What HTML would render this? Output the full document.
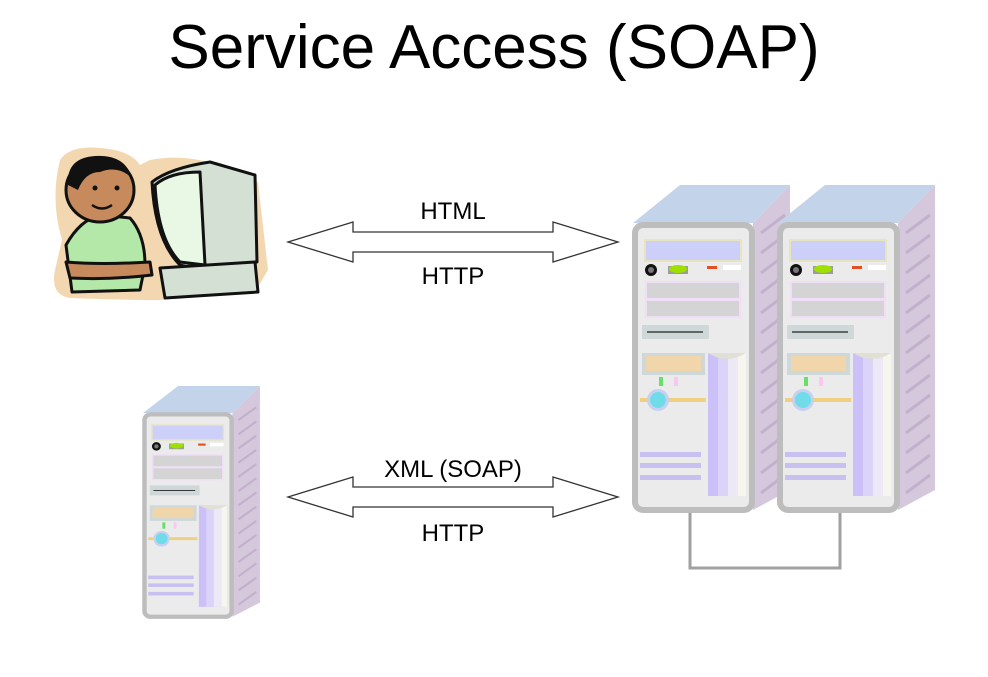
<!DOCTYPE html>
<html><head><meta charset="utf-8"><style>
html,body{margin:0;padding:0;background:#fff;}
svg{display:block;}
text{font-family:"Liberation Sans",sans-serif;fill:#000;}
</style></head><body>
<svg width="988" height="677" viewBox="0 0 988 677" xmlns="http://www.w3.org/2000/svg">
<defs>
<g id="srv">
  <polygon points="0,0 47,-38 157,-38 120,0" fill="#c3d3ea"/>
  <polygon points="120,0 157,-38 157,267 120,287" fill="#d6c8dc"/>
  <g stroke="#c2b0cc" stroke-width="3">
    <line x1="128" y1="10" x2="152" y2="-8"/><line x1="128" y1="30" x2="152" y2="12"/>
    <line x1="128" y1="50" x2="152" y2="32"/><line x1="128" y1="70" x2="152" y2="52"/>
    <line x1="128" y1="90" x2="152" y2="72"/><line x1="128" y1="110" x2="152" y2="92"/>
    <line x1="128" y1="130" x2="152" y2="112"/><line x1="128" y1="150" x2="152" y2="132"/>
    <line x1="128" y1="170" x2="152" y2="152"/><line x1="128" y1="190" x2="152" y2="172"/>
    <line x1="128" y1="210" x2="152" y2="192"/><line x1="128" y1="230" x2="152" y2="212"/>
    <line x1="128" y1="250" x2="152" y2="232"/><line x1="128" y1="270" x2="152" y2="252"/>
  </g>
  <rect x="2" y="2" width="117" height="285" rx="8" fill="#ebebeb" stroke="#bdbdbd" stroke-width="6"/>
  <rect x="12" y="17" width="96" height="21" fill="#ccd0f8" stroke="#e8e4c0" stroke-width="2"/>
  <circle cx="18" cy="47" r="6" fill="#111"/><circle cx="18" cy="47" r="3" fill="#777"/>
  <rect x="35" y="43" width="20" height="8" fill="#9c9c9c"/><ellipse cx="45" cy="46" rx="9" ry="4" fill="#9ee000"/>
  <rect x="74" y="43" width="10" height="3" fill="#e05020"/>
  <rect x="90" y="42" width="18" height="5" fill="#fff"/>
  <rect x="12" y="58" width="96" height="37" fill="#f0def8"/>
  <rect x="14" y="60" width="92" height="15" fill="#d4d4d4"/>
  <rect x="14" y="78" width="92" height="15" fill="#d4d4d4"/>
  <rect x="9" y="102" width="67" height="14" fill="#cfd8d8"/>
  <line x1="14" y1="109" x2="70" y2="109" stroke="#222" stroke-width="1.2"/>
  <rect x="9" y="130" width="63" height="22" fill="#cfd8d8"/>
  <rect x="13" y="133" width="55" height="15" fill="#f0d6aa"/>
  <rect x="26" y="154" width="4" height="9" fill="#66e066"/>
  <rect x="41" y="154" width="4" height="9" fill="#f8c8f0"/>
  <line x1="7" y1="177" x2="73" y2="177" stroke="#f0d080" stroke-width="4"/>
  <circle cx="25" cy="177" r="11" fill="#c8d0f0"/><circle cx="25" cy="177" r="8" fill="#70dcea"/>
  <rect x="75" y="130" width="38" height="143" fill="#ccc0f8"/>
  <rect x="85" y="130" width="10" height="143" fill="#dcd4f8"/>
  <rect x="95" y="130" width="10" height="143" fill="#ece8f6"/>
  <rect x="105" y="130" width="8" height="143" fill="#f6f6ee"/>
  <path d="M75,130 Q94,142 113,130 Z" fill="#e0e0d4"/>
  <rect x="7" y="229" width="61" height="5" fill="#c8c0f0"/>
  <rect x="7" y="240" width="61" height="5" fill="#c8c0f0"/>
  <rect x="7" y="252" width="61" height="5" fill="#c8c0f0"/>
</g>
</defs>

<text x="494" y="68" font-size="62" text-anchor="middle">Service Access (SOAP)</text>

<!-- person -->
<g stroke-linejoin="round">
  <path d="M60,160 Q70,145 100,148 Q130,150 140,165 L150,160 Q200,150 258,182 L268,270 L255,292 L160,300 Q120,300 70,298 Q50,295 55,270 L62,240 Q50,200 60,160Z" fill="#f3d7b0"/>
  <path d="M66,245 Q80,220 100,215 L130,218 Q145,235 145,265 L140,290 L72,292 Z" fill="#b4e8a8" stroke="#111" stroke-width="3"/>
  <ellipse cx="100" cy="190" rx="34" ry="32" fill="#c78a5c" stroke="#111" stroke-width="3"/>
  <path d="M68,185 Q66,158 95,156 Q125,154 132,178 Q118,165 100,172 Q85,172 78,190 Z" fill="#111"/>
  <path d="M92,205 Q102,212 112,205" stroke="#111" stroke-width="2.5" fill="none"/>
  <circle cx="95" cy="188" r="2.5" fill="#111"/><circle cx="117" cy="188" r="2.5" fill="#111"/>
  <path d="M152,182 Q170,168 210,162 L255,175 L257,262 L200,270 L180,265 Q155,240 152,182Z" fill="#d4e0d4" stroke="#111" stroke-width="3"/>
  <path d="M155,185 Q170,172 200,172 L205,265 L180,262 Q158,240 155,185Z" fill="#e8f8e4" stroke="#111" stroke-width="3"/>
  <path d="M160,268 L255,262 L258,292 L165,298 Z" fill="#d4e0d4" stroke="#111" stroke-width="3"/>
  <path d="M66,262 Q100,265 150,262 L152,275 Q110,280 70,278 Z" fill="#c78a5c" stroke="#111" stroke-width="3"/>
</g>

<!-- arrows -->
<polygon points="288,242 353,222 353,232 553,232 553,222 618,242 553,262 553,252 353,252 353,262" fill="#fff" stroke="#333" stroke-width="1.3"/>
<text x="453" y="219" font-size="24" text-anchor="middle">HTML</text>
<text x="453" y="284" font-size="24" text-anchor="middle">HTTP</text>
<polygon points="288,497 353,477 353,487 553,487 553,477 618,497 553,517 553,507 353,507 353,517" fill="#fff" stroke="#333" stroke-width="1.3"/>
<text x="453" y="477" font-size="24" text-anchor="middle">XML (SOAP)</text>
<text x="453" y="541" font-size="24" text-anchor="middle">HTTP</text>

<!-- cable -->
<polyline points="690,510 690,568 840,568 840,510" fill="none" stroke="#a0a0a0" stroke-width="3"/>
<use href="#srv" transform="translate(633,223)"/>
<use href="#srv" transform="translate(778,223)"/>
<use href="#srv" transform="translate(143,413) scale(0.745,0.71)"/>
</svg>
</body></html>
